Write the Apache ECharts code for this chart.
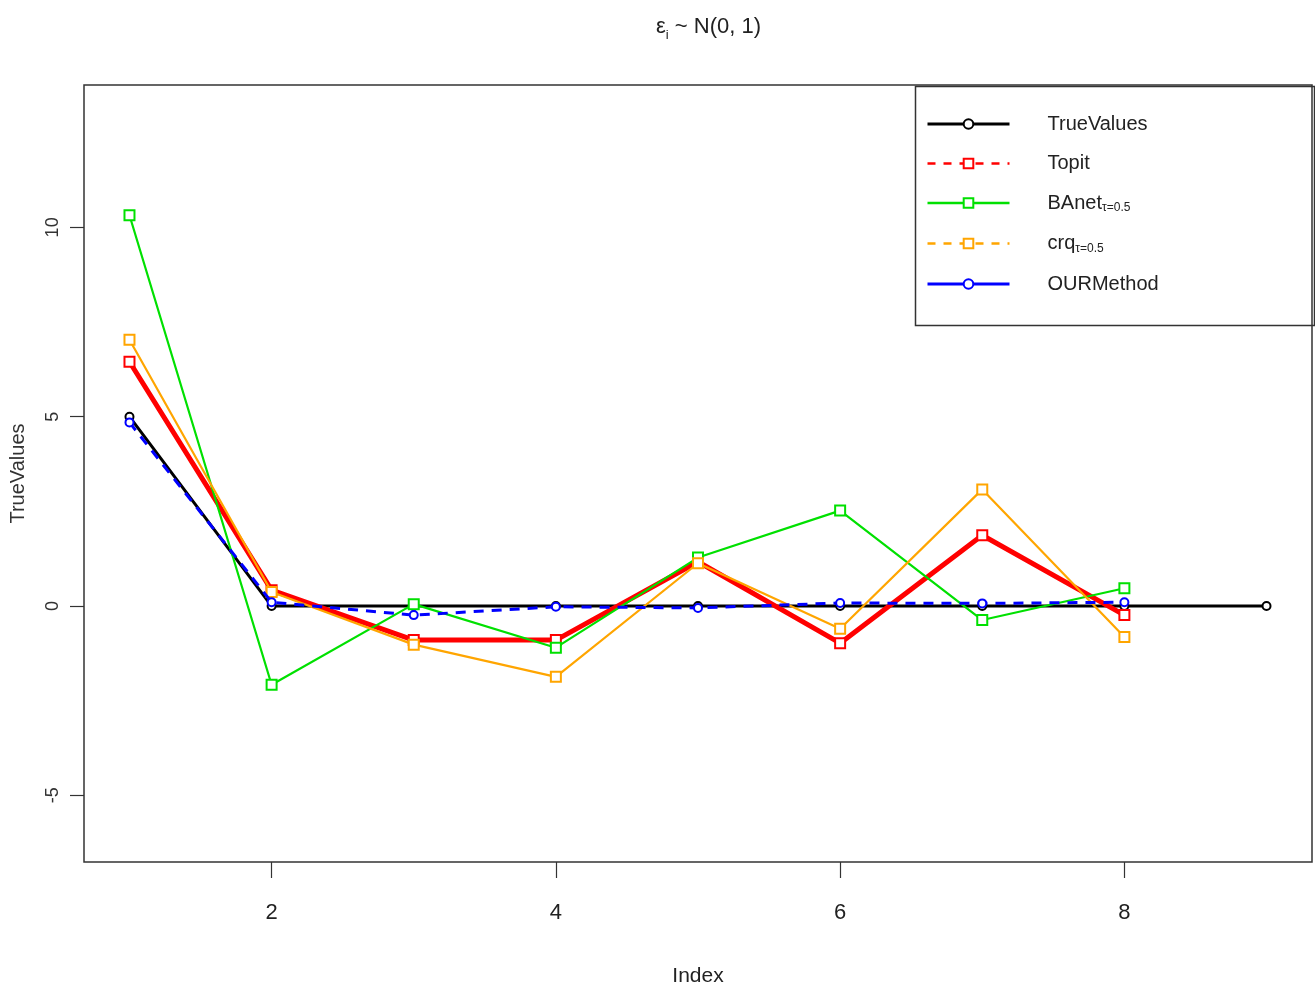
<!DOCTYPE html>
<html>
<head>
<meta charset="utf-8">
<script src="https://cdn.jsdelivr.net/npm/echarts@6/dist/echarts.min.js"></script>
<style>html,body{margin:0;padding:0;background:#fff}#c{width:1315px;height:989px}</style>
</head>
<body>
<div id="c"></div>
<script>
const index = [1, 2, 3, 4, 5, 6, 7, 8, 9];
const trueValues = [5, 0, 0, 0, 0, 0, 0, 0, 0];
const topit = [6.45, 0.42, -0.9, -0.9, 1.17, -0.98, 1.87, -0.24];
const banet = [10.32, -2.08, 0.05, -1.1, 1.28, 2.52, -0.37, 0.47];
const crq = [7.03, 0.37, -1.02, -1.87, 1.13, -0.6, 3.08, -0.82];
const ourMethod = [4.85, 0.1, -0.24, -0.02, -0.05, 0.08, 0.07, 0.1];
const xTicks = [2, 4, 6, 8];
const yTicks = [-5, 0, 5, 10];

const SANS = '"Liberation Sans", Arial, sans-serif';

function pairs(vals) { return vals.map((v, i) => [index[i], v]); }

const subs = { 'BAnet': 'τ=0.5', 'crq': 'τ=0.5' };

const chart = echarts.init(document.getElementById('c'), null, { renderer: 'canvas' });
chart.setOption({
  animation: false,
  backgroundColor: '#fff',
  title: {
    text: '{a|ε}{s|i}{a| ~ N(0, 1)}',
    left: 651, top: 7,
    textStyle: {
      fontWeight: 'normal',
      rich: {
        a: { fontFamily: SANS, fontSize: 22, fontWeight: 'normal', color: '#222', lineHeight: 30 },
        s: { fontFamily: SANS, fontSize: 13, fontWeight: 'normal', color: '#222', lineHeight: 12, verticalAlign: 'bottom' }
      }
    }
  },
  grid: { left: 84, right: 3, top: 85, bottom: 127, show: true, borderColor: '#333', borderWidth: 1.5, containLabel: false, outerBoundsMode: 'none' },
  xAxis: {
    type: 'value', min: 0.68, max: 9.32,
    name: 'Index', nameLocation: 'middle', nameGap: 104,
    nameTextStyle: { fontFamily: SANS, fontSize: 21, color: '#222' },
    axisLine: { show: false, onZero: false },
    axisTick: { show: true, length: 16, customValues: xTicks, lineStyle: { color: '#333', width: 1.2 } },
    axisLabel: { customValues: xTicks, margin: 40, fontFamily: SANS, fontSize: 22, color: '#222' },
    splitLine: { show: false }
  },
  yAxis: {
    type: 'value', min: -6.76, max: 13.76,
    name: 'TrueValues', nameLocation: 'middle', nameGap: 56,
    nameTextStyle: { fontFamily: SANS, fontSize: 20, color: '#333' },
    axisLine: { show: false, onZero: false },
    axisTick: { show: true, length: 14, customValues: yTicks, lineStyle: { color: '#333', width: 1.2 } },
    axisLabel: { customValues: yTicks, rotate: 90, margin: 22, fontFamily: SANS, fontSize: 18, color: '#333' },
    splitLine: { show: false }
  },
  legend: {
    left: 926, top: 114, orient: 'vertical',
    itemWidth: 82, itemHeight: 12, itemGap: 19.5, padding: 0,
    data: [
      { name: 'TrueValues', lineStyle: { width: 3, type: 'solid' } },
      { name: 'Topit', lineStyle: { width: 2.5, type: [8, 8] } },
      { name: 'BAnet', lineStyle: { width: 2.5, type: 'solid' } },
      { name: 'crq', lineStyle: { width: 2.5, type: [8, 8] } },
      { name: 'OURMethod', lineStyle: { width: 3, type: 'solid' } }
    ],
    formatter: function (name) {
      let s = '{g| }{b|' + name + '}';
      if (subs[name]) s += '{s|' + subs[name] + '}';
      return s;
    },
    textStyle: {
      rich: {
        g: { width: 33, lineHeight: 22 },
        b: { fontFamily: SANS, fontSize: 20, color: '#222', lineHeight: 22 },
        s: { fontFamily: SANS, fontSize: 12, color: '#222', lineHeight: 10, verticalAlign: 'bottom' }
      }
    }
  },
  graphic: [
    { type: 'rect', left: 913, top: 84, shape: { x: 0, y: 0, width: 399, height: 239 }, style: { fill: 'none', stroke: '#333', lineWidth: 1.5 }, z: 10 }
  ],
  series: [
    { name: 'TrueValues', type: 'line', data: pairs(trueValues), color: '#000',
      lineStyle: { width: 3, color: '#000' }, symbol: 'emptyCircle', symbolSize: 8,
      itemStyle: { color: '#000', borderWidth: 2 }, z: 2 },
    { name: 'Topit', type: 'line', data: pairs(topit), color: '#ff0000',
      lineStyle: { width: 5, color: '#ff0000' }, symbol: 'emptyRect', symbolSize: 10,
      itemStyle: { color: '#ff0000', borderWidth: 3 }, z: 3 },
    { name: 'BAnet', type: 'line', data: pairs(banet), color: '#00e000',
      lineStyle: { width: 2.2, color: '#00e000' }, symbol: 'emptyRect', symbolSize: 10,
      itemStyle: { color: '#00e000', borderWidth: 2 }, z: 4 },
    { name: 'crq', type: 'line', data: pairs(crq), color: '#ffa500',
      lineStyle: { width: 2.2, color: '#ffa500' }, symbol: 'emptyRect', symbolSize: 10,
      itemStyle: { color: '#ffa500', borderWidth: 2 }, z: 5 },
    { name: 'OURMethod', type: 'line', data: pairs(ourMethod), color: '#0000ff',
      lineStyle: { width: 3, color: '#0000ff', type: [10, 8] }, symbol: 'emptyCircle', symbolSize: 8,
      itemStyle: { color: '#0000ff', borderWidth: 2 }, z: 6 }
  ]
});
</script>
</body>
</html>
